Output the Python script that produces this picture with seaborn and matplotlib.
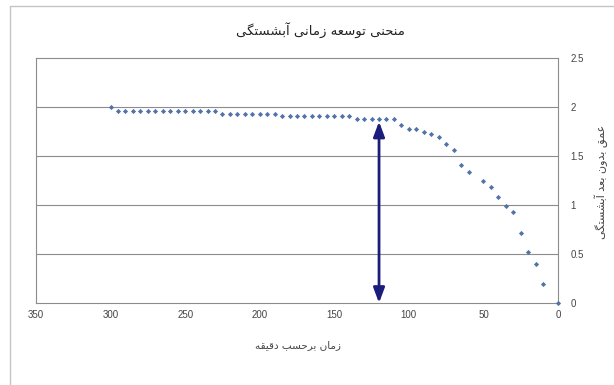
import matplotlib
matplotlib.use("Agg")
import matplotlib.pyplot as plt
import pandas as pd
import seaborn as sns
from matplotlib.patches import Rectangle

# ---- data ----
time_min = [300,
            295, 290, 285, 280, 275, 270, 265, 260, 255, 250, 245, 240, 235, 230,
            225, 220, 215, 210, 205, 200, 195, 190,
            185, 180, 175, 170, 165, 160, 155, 150, 145, 140,
            135, 130, 125, 120, 115, 110,
            105, 100, 95, 90, 85, 80, 75, 70, 65, 60,
            50, 45, 40, 35, 30, 25, 20, 15, 10, 0]
depth = [2.00,
         1.96, 1.96, 1.96, 1.96, 1.96, 1.96, 1.96, 1.96, 1.96, 1.96, 1.96, 1.96, 1.96, 1.96,
         1.93, 1.93, 1.93, 1.93, 1.93, 1.93, 1.93, 1.93,
         1.91, 1.91, 1.91, 1.91, 1.91, 1.91, 1.91, 1.91, 1.91, 1.91,
         1.88, 1.88, 1.88, 1.88, 1.88, 1.88,
         1.82, 1.78, 1.78, 1.75, 1.72, 1.69, 1.62, 1.56, 1.41, 1.34,
         1.24, 1.18, 1.08, 0.99, 0.93, 0.71, 0.52, 0.40, 0.19, 0.00]
x_ticks = [350, 300, 250, 200, 150, 100, 50, 0]
y_ticks = [0, 0.5, 1, 1.5, 2, 2.5]
y_tick_labels = ["0", "0.5", "1", "1.5", "2", "2.5"]
arrow_time = 120

title_text = "منحنی توسعه زمانی آبشستگی"
xlabel_text = "زمان برحسب دقیقه"
ylabel_text = "عمق بدون بعد آبشستگی"

# ---- minimal Persian shaping (contextual forms + visual order) ----
FORMS = {
    '\u0627': ('\uFE8D', '\uFE8E', None, None),
    '\u0622': ('\uFE81', '\uFE82', None, None),
    '\u0628': ('\uFE8F', '\uFE90', '\uFE91', '\uFE92'),
    '\u062A': ('\uFE95', '\uFE96', '\uFE97', '\uFE98'),
    '\u062D': ('\uFEA1', '\uFEA2', '\uFEA3', '\uFEA4'),
    '\u062F': ('\uFEA9', '\uFEAA', None, None),
    '\u0631': ('\uFEAD', '\uFEAE', None, None),
    '\u0632': ('\uFEAF', '\uFEB0', None, None),
    '\u0633': ('\uFEB1', '\uFEB2', '\uFEB3', '\uFEB4'),
    '\u0634': ('\uFEB5', '\uFEB6', '\uFEB7', '\uFEB8'),
    '\u0639': ('\uFEC9', '\uFECA', '\uFECB', '\uFECC'),
    '\u0642': ('\uFED5', '\uFED6', '\uFED7', '\uFED8'),
    '\u0645': ('\uFEE1', '\uFEE2', '\uFEE3', '\uFEE4'),
    '\u0646': ('\uFEE5', '\uFEE6', '\uFEE7', '\uFEE8'),
    '\u0647': ('\uFEE9', '\uFEEA', '\uFEEB', '\uFEEC'),
    '\u0648': ('\uFEED', '\uFEEE', None, None),
    '\u06AF': ('\uFB92', '\uFB93', '\uFB94', '\uFB95'),
    '\u06CC': ('\uFBFC', '\uFBFD', '\uFBFE', '\uFBFF'),
}


def shape_rtl(text):
    text = text.replace('\u064A', '\u06CC')
    out = []
    n = len(text)
    for i, ch in enumerate(text):
        f = FORMS.get(ch)
        if f is None:
            out.append(ch)
            continue
        prev = text[i - 1] if i > 0 else ''
        nxt = text[i + 1] if i < n - 1 else ''
        join_prev = prev in FORMS and FORMS[prev][2] is not None
        join_next = f[2] is not None and nxt in FORMS
        if join_prev and join_next:
            out.append(f[3])
        elif join_prev:
            out.append(f[1])
        elif join_next:
            out.append(f[2])
        else:
            out.append(f[0])
    return ''.join(reversed(out))


# ---- figure ----
sns.set_theme(style="white")
plt.rcParams['font.family'] = ['Liberation Sans', 'DejaVu Sans']

W, H = 614, 385
fig = plt.figure(figsize=(W / 100, H / 100), dpi=100)
fig.patch.set_facecolor("white")

# chart frame
fig.patches.append(Rectangle((10 / W, -0.05), 1.2, 1 - 6 / H + 0.05,
                             transform=fig.transFigure, fill=False,
                             edgecolor="#c4c4c4", linewidth=1.0))

ax = fig.add_axes([36 / W, 1 - 303 / H, (558 - 36) / W, (303 - 58) / H])

df = pd.DataFrame({"time": time_min, "depth": depth})
sns.scatterplot(data=df, x="time", y="depth", ax=ax, marker="D", s=7,
                color="#5273a8", linewidth=0, zorder=3, clip_on=False)

ax.set_xlim(350, 0)
ax.set_ylim(0, 2.5)
ax.set_xticks(x_ticks)
ax.set_xticklabels([str(t) for t in x_ticks])
ax.set_yticks(y_ticks)
ax.set_yticklabels(y_tick_labels)
ax.yaxis.tick_right()
ax.tick_params(axis="x", length=0, pad=5, labelsize=7, labelcolor="#444444")
ax.tick_params(axis="y", length=0, pad=9, labelsize=7, labelcolor="#444444")
for lab in ax.get_yticklabels():
    lab.set_horizontalalignment("left")

ax.grid(False)
for yv in y_ticks[1:-1]:
    ax.axhline(yv, color="#8c8c8c", linewidth=0.8, zorder=1)
for sp in ax.spines.values():
    sp.set_visible(True)
    sp.set_color("#8c8c8c")
    sp.set_linewidth(0.8)
ax.set_xlabel("")
ax.set_ylabel("")

# double-headed arrow at the equilibrium time
arrow_depth = depth[time_min.index(arrow_time)]
ax.annotate("", xy=(arrow_time, 0.0), xytext=(arrow_time, arrow_depth),
            arrowprops=dict(arrowstyle="<|-|>,head_length=0.75,head_width=0.28",
                            color="#1c1c7c", lw=2.0, shrinkA=2, shrinkB=0),
            zorder=4)

# texts
fig.text(320 / W, 1 - 30 / H, shape_rtl(title_text), ha="center", va="center",
         fontsize=9.5, color="#222222", family=["DejaVu Sans"])
fig.text(298 / W, 1 - 345 / H, shape_rtl(xlabel_text), ha="center", va="center",
         fontsize=7.5, color="#444444", family=["DejaVu Sans"])
fig.text(601 / W, 1 - 182 / H, shape_rtl(ylabel_text), ha="center", va="center",
         rotation=90, fontsize=8, color="#444444", family=["DejaVu Sans"])

fig.savefig("out.png", dpi=100, facecolor="white")
